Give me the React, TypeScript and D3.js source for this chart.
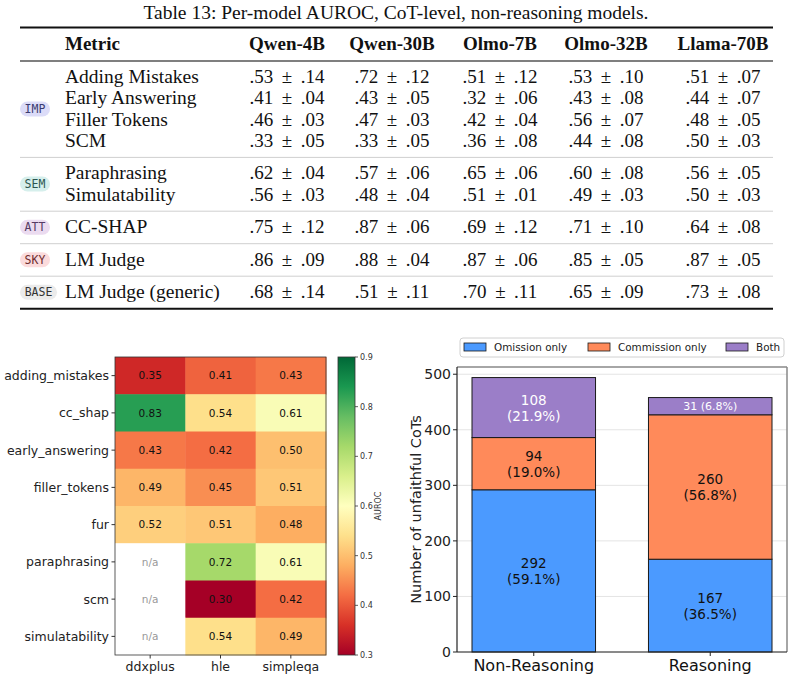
import React from 'react';
import * as d3 from 'd3';

const W = 794;
const H = 680;

// ---------- table data ----------
const caption = 'Table 13: Per-model AUROC, CoT-level, non-reasoning models.';
const models = ['Qwen-4B', 'Qwen-30B', 'Olmo-7B', 'Olmo-32B', 'Llama-70B'];
const metricNames = [
  'Adding Mistakes', 'Early Answering', 'Filler Tokens', 'SCM',
  'Paraphrasing', 'Simulatability', 'CC-SHAP', 'LM Judge', 'LM Judge (generic)',
];
const metricTags = ['IMP', 'IMP', 'IMP', 'IMP', 'SEM', 'SEM', 'ATT', 'SKY', 'BASE'];
const means = [
  [0.53, 0.72, 0.51, 0.53, 0.51],
  [0.41, 0.43, 0.32, 0.43, 0.44],
  [0.46, 0.47, 0.42, 0.56, 0.48],
  [0.33, 0.33, 0.36, 0.44, 0.50],
  [0.62, 0.57, 0.65, 0.60, 0.56],
  [0.56, 0.48, 0.51, 0.49, 0.50],
  [0.75, 0.87, 0.69, 0.71, 0.64],
  [0.86, 0.88, 0.87, 0.85, 0.87],
  [0.68, 0.51, 0.70, 0.65, 0.73],
];
const stds = [
  [0.14, 0.12, 0.12, 0.10, 0.07],
  [0.04, 0.05, 0.06, 0.08, 0.07],
  [0.03, 0.03, 0.04, 0.07, 0.05],
  [0.05, 0.05, 0.08, 0.08, 0.03],
  [0.04, 0.06, 0.06, 0.08, 0.05],
  [0.03, 0.04, 0.01, 0.03, 0.03],
  [0.12, 0.06, 0.12, 0.10, 0.08],
  [0.09, 0.04, 0.06, 0.05, 0.05],
  [0.14, 0.11, 0.11, 0.09, 0.08],
];
const tagFill = { IMP: '#dcdcf8', SEM: '#d6efec', ATT: '#ebdbf0', SKY: '#fbdbdc', BASE: '#ebebeb' };
const tagInk = { IMP: '#3a3a70', SEM: '#2c5650', ATT: '#563a64', SKY: '#6e2c30', BASE: '#333333' };

// ---------- heatmap data ----------
const hmRows = ['adding_mistakes', 'cc_shap', 'early_answering', 'filler_tokens', 'fur', 'paraphrasing', 'scm', 'simulatability'];
const hmCols = ['ddxplus', 'hle', 'simpleqa'];
const hmValues = [
  [0.35, 0.41, 0.43],
  [0.83, 0.54, 0.61],
  [0.43, 0.42, 0.50],
  [0.49, 0.45, 0.51],
  [0.52, 0.51, 0.48],
  [null, 0.72, 0.61],
  [null, 0.30, 0.42],
  [null, 0.54, 0.49],
];
const cbTicks = [0.3, 0.4, 0.5, 0.6, 0.7, 0.8, 0.9];
const rdYlGn = ['#a50026', '#d73027', '#f46d43', '#fdae61', '#fee08b', '#ffffbf', '#d9ef8b', '#a6d96a', '#66bd63', '#1a9850', '#006837'];

// ---------- stacked bar data ----------
const barGroups = ['Non-Reasoning', 'Reasoning'];
const omission = [292, 167];
const commission = [94, 260];
const both = [108, 31];
const seriesKeys = ['omission', 'commission', 'both'];
const seriesNames = ['Omission only', 'Commission only', 'Both'];
const seriesColors = ['#4b9aff', '#ff8a5a', '#9b7ec8'];
const barTicks = [0, 100, 200, 300, 400, 500];

const serif = '"Liberation Serif", "Times New Roman", serif';
const sans = '"DejaVu Sans", sans-serif';
const mono = '"DejaVu Sans Mono", monospace';

const fmt2 = (v: number) => d3.format('.2f')(v).replace(/^0/, '');

function Table() {
  const colX = [287, 392, 500, 606, 723];
  const pitch = 21.3;
  // group layout: rule, rows, rule ...
  const groups: { tag: string; rows: number[] }[] = [];
  metricTags.forEach((t, i) => {
    const g = groups[groups.length - 1];
    if (g && g.tag === t) g.rows.push(i);
    else groups.push({ tag: t, rows: [i] });
  });
  let ruleY = 61;
  const rules: number[] = [];
  const baselines: number[] = [];
  const badges: { tag: string; y: number }[] = [];
  groups.forEach((g, gi) => {
    const first = ruleY + 22;
    g.rows.forEach((r, k) => (baselines[r] = first + k * pitch));
    const last = first + (g.rows.length - 1) * pitch;
    badges.push({ tag: g.tag, y: (first + last) / 2 - 6 });
    ruleY = last + 10.5;
    if (gi < groups.length - 1) rules.push(ruleY);
  });
  const bottomRule = ruleY;
  return (
    <g>
      <text x={396} y={19} textAnchor="middle" fontFamily={serif} fontSize={19.5} fill="#111">{caption}</text>
      <line x1={20} x2={773} y1={27.5} y2={27.5} stroke="#111" strokeWidth={2} />
      <text x={65} y={50} fontFamily={serif} fontSize={19} fontWeight="bold" fill="#111">Metric</text>
      {models.map((m, j) => (
        <text key={m} x={colX[j]} y={50} textAnchor="middle" fontFamily={serif} fontSize={19} fontWeight="bold" fill="#111">{m}</text>
      ))}
      <line x1={20} x2={773} y1={61} y2={61} stroke="#555" strokeWidth={1.5} />
      {rules.map((y, i) => (
        <line key={i} x1={20} x2={773} y1={y} y2={y} stroke="#cfcfcf" strokeWidth={1} />
      ))}
      <line x1={20} x2={773} y1={bottomRule} y2={bottomRule} stroke="#111" strokeWidth={2} />
      {badges.map((b) => {
        const w = b.tag.length * 7 + 9;
        return (
          <g key={b.tag}>
            <rect x={20} y={b.y - 7.5} width={w} height={15} rx={7.5} fill={tagFill[b.tag]} />
            <text x={20 + w / 2} y={b.y + 4} textAnchor="middle" fontFamily={mono} fontSize={11.5} fill={tagInk[b.tag]}>{b.tag}</text>
          </g>
        );
      })}
      {metricNames.map((n, i) => (
        <g key={n}>
          <text x={65} y={baselines[i]} fontFamily={serif} fontSize={19.5} fill="#111">{n}</text>
          {means[i].map((m, j) => (
            <text key={j} x={colX[j]} y={baselines[i]} textAnchor="middle" fontFamily={serif} fontSize={19} fill="#111">
              {`${fmt2(m)} \u2009\u00b1 \u2009${fmt2(stds[i][j])}`}
            </text>
          ))}
        </g>
      ))}
    </g>
  );
}

function Heatmap() {
  const x = d3.scaleBand().domain(hmCols).range([115, 326]);
  const y = d3.scaleBand().domain(hmRows).range([357, 655]);
  const color = d3.scaleLinear<string>()
    .domain(rdYlGn.map((_, i) => 0.3 + (i * 0.6) / (rdYlGn.length - 1)))
    .range(rdYlGn)
    .clamp(true);
  const cb = d3.scaleLinear().domain([0.3, 0.9]).range([655, 357]);
  const cbX0 = 338, cbX1 = 355;
  return (
    <g>
      <defs>
        <linearGradient id="cbgrad" x1="0" y1="1" x2="0" y2="0">
          {rdYlGn.map((c, i) => (
            <stop key={i} offset={`${(i / (rdYlGn.length - 1)) * 100}%`} stopColor={c} />
          ))}
        </linearGradient>
      </defs>
      {hmRows.map((r, i) =>
        hmCols.map((c, j) => {
          const v = hmValues[i][j];
          return (
            <g key={r + c}>
              <rect x={x(c)} y={y(r)} width={x.bandwidth() + 0.5} height={y.bandwidth() + 0.5} fill={v == null ? '#ffffff' : color(v)} />
              <text x={x(c)! + x.bandwidth() / 2} y={y(r)! + y.bandwidth() / 2 + 3.8} textAnchor="middle" fontFamily={sans} fontSize={10.5} fill={v == null ? '#999' : '#111'}>
                {v == null ? 'n/a' : d3.format('.2f')(v)}
              </text>
            </g>
          );
        })
      )}
      <rect x={115} y={357} width={211} height={298} fill="none" stroke="#333" strokeWidth={0.8} />
      {hmRows.map((r) => (
        <g key={r}>
          <line x1={111.5} x2={115} y1={y(r)! + y.bandwidth() / 2} y2={y(r)! + y.bandwidth() / 2} stroke="#333" />
          <text x={109} y={y(r)! + y.bandwidth() / 2 + 4.5} textAnchor="end" fontFamily={sans} fontSize={12.5} fill="#222">{r}</text>
        </g>
      ))}
      {hmCols.map((c) => (
        <g key={c}>
          <line x1={x(c)! + x.bandwidth() / 2} x2={x(c)! + x.bandwidth() / 2} y1={655} y2={658.5} stroke="#333" />
          <text x={x(c)! + x.bandwidth() / 2} y={671} textAnchor="middle" fontFamily={sans} fontSize={12.5} fill="#222">{c}</text>
        </g>
      ))}
      <rect x={cbX0} y={357} width={cbX1 - cbX0} height={298} fill="url(#cbgrad)" stroke="#333" strokeWidth={0.8} />
      {cbTicks.map((t) => (
        <g key={t}>
          <line x1={cbX1} x2={cbX1 + 3} y1={cb(t)} y2={cb(t)} stroke="#333" strokeWidth={0.8} />
          <text x={cbX1 + 5} y={cb(t) + 3} fontFamily={sans} fontSize={8} fill="#333">{d3.format('.1f')(t)}</text>
        </g>
      ))}
      <text transform={`translate(381,506) rotate(-90)`} textAnchor="middle" fontFamily={sans} fontSize={8} fill="#333">AUROC</text>
    </g>
  );
}

function StackedBars() {
  const left = 457, right = 787, top = 367, bottom = 652;
  const barW = 0.7;
  const x = d3.scaleLinear().domain([-0.435, 1.435]).range([left, right]);
  const y = d3.scaleLinear().domain([0, 513]).range([bottom, top]);
  const rows = barGroups.map((g, i) => ({ group: g, omission: omission[i], commission: commission[i], both: both[i] }));
  const stacked = d3.stack<any>().keys(seriesKeys)(rows);
  const totals = rows.map((r) => r.omission + r.commission + r.both);
  const legendSwatchX = [464, 588, 726];
  return (
    <g>
      {barTicks.map((t) => (
        <line key={t} x1={left} x2={right} y1={y(t)} y2={y(t)} stroke="#e4e4e4" strokeWidth={1} />
      ))}
      {stacked.map((s, si) =>
        s.map((d, i) => (
          <rect key={si + '-' + i} x={x(i - barW / 2)} width={x(barW) - x(0)} y={y(d[1])} height={y(d[0]) - y(d[1])}
            fill={seriesColors[si]} stroke="#1a1a1a" strokeWidth={1} />
        ))
      )}
      {stacked.map((s, si) =>
        s.map((d, i) => {
          const v = d[1] - d[0];
          const pct = `(${d3.format('.1f')((v / totals[i]) * 100)}%)`;
          const cy = y((d[0] + d[1]) / 2);
          const ink = si === 2 ? '#ffffff' : '#111111';
          const small = y(d[0]) - y(d[1]) < 30;
          return small ? (
            <text key={'l' + si + i} x={x(i)} y={cy + 4} textAnchor="middle" fontFamily={sans} fontSize={11} fill={ink}>{`${v} ${pct}`}</text>
          ) : (
            <g key={'l' + si + i}>
              <text x={x(i)} y={cy - 3} textAnchor="middle" fontFamily={sans} fontSize={13.5} fill={ink}>{v}</text>
              <text x={x(i)} y={cy + 13} textAnchor="middle" fontFamily={sans} fontSize={13.5} fill={ink}>{pct}</text>
            </g>
          );
        })
      )}
      <line x1={left} x2={right} y1={top} y2={top} stroke="#888" strokeWidth={1.5} />
      <line x1={right} x2={right} y1={top} y2={bottom} stroke="#888" strokeWidth={1.5} />
      <line x1={left} x2={left} y1={top} y2={bottom} stroke="#222" strokeWidth={1.2} />
      <line x1={left} x2={right} y1={bottom} y2={bottom} stroke="#222" strokeWidth={1.2} />
      {barTicks.map((t) => (
        <g key={t}>
          <line x1={left - 4} x2={left} y1={y(t)} y2={y(t)} stroke="#222" />
          <text x={left - 6} y={y(t) + 5} textAnchor="end" fontFamily={sans} fontSize={14} fill="#222">{t}</text>
        </g>
      ))}
      {barGroups.map((g, i) => (
        <g key={g}>
          <line x1={x(i)} x2={x(i)} y1={bottom} y2={bottom + 4} stroke="#222" />
          <text x={x(i)} y={671} textAnchor="middle" fontFamily={sans} fontSize={16} fill="#111">{g}</text>
        </g>
      ))}
      <text transform={`translate(421,${(top + bottom) / 2}) rotate(-90)`} textAnchor="middle" fontFamily={sans} fontSize={14.5} fill="#222">
        Number of unfaithful CoTs
      </text>
      <rect x={460} y={338} width={324} height={19} rx={3} fill="#fff" stroke="#d0d0d0" strokeWidth={1} />
      {seriesNames.map((n, i) => (
        <g key={n}>
          <rect x={legendSwatchX[i]} y={343} width={22} height={8} fill={seriesColors[i]} stroke="#1a1a1a" strokeWidth={0.8} />
          <text x={legendSwatchX[i] + 30} y={351} fontFamily={sans} fontSize={10.4} fill="#222">{n}</text>
        </g>
      ))}
    </g>
  );
}

export default function App() {
  return (
    <svg width={W} height={H} style={{ position: 'absolute', left: 0, top: 0, background: '#fff' }}>
      <rect width={W} height={H} fill="#fff" />
      <Table />
      <Heatmap />
      <StackedBars />
    </svg>
  );
}
